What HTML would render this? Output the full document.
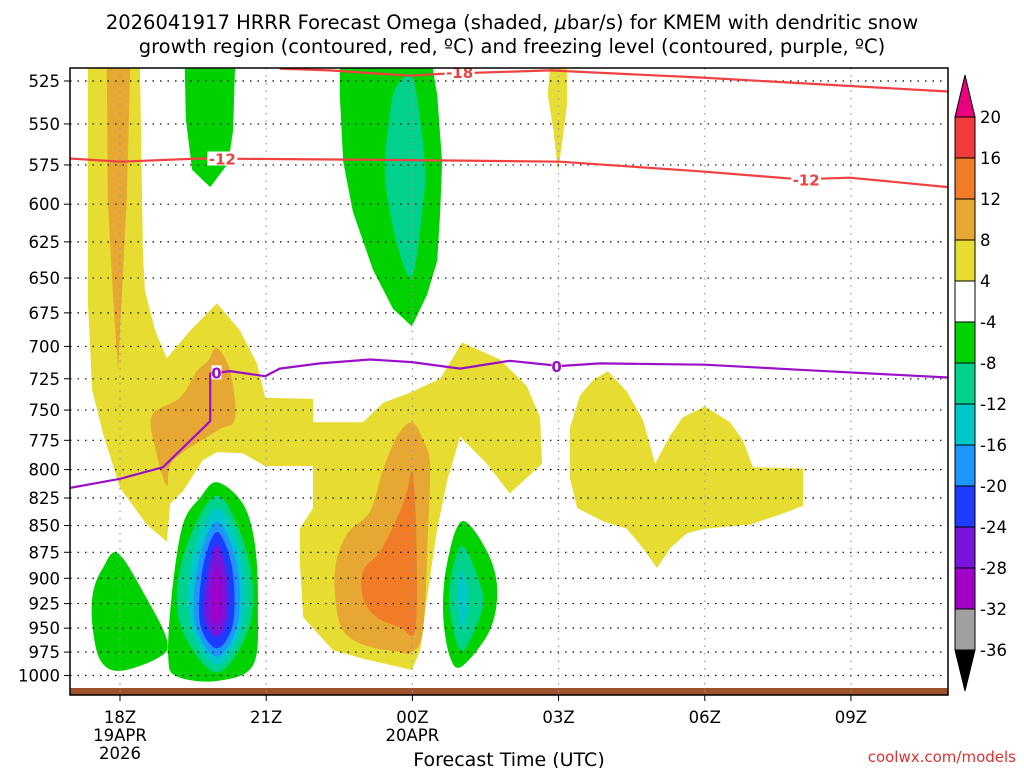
<!DOCTYPE html>
<html><head><meta charset="utf-8"><style>
html,body{margin:0;padding:0;background:#fff;}
body{width:1024px;height:768px;overflow:hidden;font-family:"DejaVu Sans","Liberation Sans",sans-serif;}
svg{display:block;}
</style></head><body>
<svg id="chart" width="1024" height="768" xmlns="http://www.w3.org/2000/svg" font-family="DejaVu Sans, Liberation Sans, sans-serif">
<text x="512" y="29" font-size="19.5" text-anchor="middle">2026041917 HRRR Forecast Omega (shaded, <tspan font-style="italic">μ</tspan>bar/s) for KMEM with dendritic snow</text>
<text x="512" y="53" font-size="19.5" text-anchor="middle">growth region (contoured, red, ºC) and freezing level (contoured, purple, ºC)</text>
<g id="plot"></g>
<g id="cbar"></g>
<text x="509" y="766" font-size="19" text-anchor="middle">Forecast Time (UTC)</text>
<text x="1016" y="762" font-size="15" fill="#e03030" text-anchor="end">coolwx.com/models</text>
</svg>
<script>
// ---- data ----
const pressureTicks=[525,550,575,600,625,650,675,700,725,750,775,800,825,850,875,900,925,950,975,1000];
const timeTicks=[18,21,24,27,30,33];
const timeLabels=["18Z","21Z","00Z","03Z","06Z","09Z"];
const dateLabels={18:["19APR","2026"],24:["20APR"]};
const cbarLevels=[20,16,12,8,4,-4,-8,-12,-16,-20,-24,-28,-32,-36];
const cbarColors=["#f03c3c","#f07c28","#e6a832","#e6dc32","#ffffff","#00d200","#00d28c","#00c8c8","#1e96ff","#1e3cff","#7814dc","#a000c8","#a0a0a0"];
const yellowMain=[[17.34,518],[18.41,518],[18.47,631],[18.51,659],[18.72,688],[18.96,709],[19.44,688],[19.99,668],[20.46,688],[20.81,713],[20.98,740],[21.96,741],[21.96,760],[22.99,760],[23.4,744],[23.95,736],[24.57,725],[25.02,697],[25.8,710],[26.35,731],[26.62,756],[26.66,795],[26.0,821],[25.53,795],[24.98,772],[24.71,810],[24.5,856],[24.3,919],[24.16,973],[23.99,994],[23.07,983],[22.37,973],[21.76,939],[21.69,884],[21.69,853],[21.96,834],[21.96,797],[20.98,797],[20.52,786],[19.99,785],[19.7,792],[19.29,819],[19.03,830],[18.96,865],[18.55,849],[18.0,816],[17.65,769],[17.43,734],[17.34,666]];
const yellowSpike=[[26.82,518],[27.17,518],[27.17,539],[27.09,557],[26.99,579],[26.89,553],[26.78,533]];
const yellowRight=[[28.01,719],[28.4,735],[28.73,758],[28.98,795],[29.29,771],[29.55,756],[30.0,747],[30.52,760],[30.78,775],[30.99,798],[32.02,799],[32.02,832],[31.54,840],[30.93,849],[30.0,853],[29.64,857],[29.29,871],[29.02,890],[28.73,871],[28.4,853],[27.91,846],[27.38,834],[27.23,807],[27.23,765],[27.44,738],[27.71,726]];
const orangeCol=[[17.73,518],[18.21,518],[18.14,597],[18.0,688],[17.96,719],[17.86,666],[17.75,597]];
const orangeMid=[[19.99,701],[20.26,719],[20.36,757],[19.99,767],[19.09,792],[18.96,814],[18.72,781],[18.66,754],[19.23,740],[19.58,719],[19.81,711]];
const orangeCen=[[23.99,760],[24.22,775],[24.36,795],[24.32,856],[24.22,952],[23.99,975],[23.75,975],[22.93,966],[22.51,945],[22.41,893],[22.66,858],[23.13,837],[23.4,800],[23.68,772]];
const dorangeCen=[[23.99,801],[24.05,825],[24.09,887],[24.05,954],[23.75,949],[23.27,939],[22.99,920],[22.99,893],[23.34,874],[23.68,844],[23.89,819]];
const greenA=[[19.99,811],[20.52,830],[20.77,868],[20.83,929],[20.73,989],[19.99,1006],[19.17,1001],[18.99,980],[19.07,913],[19.29,849],[19.64,825]];
const tealA=[[19.99,823],[20.63,880],[20.67,945],[19.99,997],[19.23,945],[19.29,880]];
const cyanA=[[19.99,834],[20.5,880],[20.52,945],[19.99,989],[19.44,945],[19.48,880]];
const blueA=[[19.99,846],[20.4,886],[20.42,945],[19.99,980],[19.54,945],[19.6,886]];
const dblueA=[[19.99,856],[20.3,890],[20.32,945],[19.99,971],[19.64,945],[19.7,890]];
const purpleA=[[19.99,868],[20.2,900],[20.2,939],[19.99,959],[19.74,939],[19.79,900]];
const magentaA=[[19.99,887],[20.09,913],[20.05,942],[19.91,942],[19.89,913]];
const greenL=[[17.96,876],[18.55,920],[18.96,962],[18.82,980],[18.0,995],[17.59,983],[17.43,945],[17.45,913],[17.65,890]];
const greenB=[[25.02,846],[25.53,874],[25.74,910],[25.59,952],[25.02,990],[24.77,980],[24.63,935],[24.71,886]];
const tealB=[[25.02,869],[25.39,906],[25.43,931],[25.04,973],[24.81,945],[24.77,906]];
const cyanB=[[25.02,893],[25.14,919],[25.04,952],[24.92,919]];
const greenTop1=[[19.33,518],[20.36,518],[20.32,554],[20.22,574],[19.85,589],[19.48,578],[19.35,547]];
const greenTop2=[[22.51,518],[24.42,518],[24.51,533],[24.61,573],[24.57,605],[24.51,638],[24.3,662],[23.99,685],[23.6,672],[23.19,644],[22.78,605],[22.58,573],[22.51,533]];
const tealTop2=[[23.95,522],[24.09,533],[24.26,577],[24.2,605],[23.99,649],[23.68,626],[23.44,583],[23.5,553],[23.64,530]];
const lineM18=[[21.28,518],[22.31,519],[23.95,522],[24.57,521],[26.82,519],[29.9,523],[34.99,531]];
const lineM12=[[16.97,571],[18.0,573],[19.64,571],[23.99,572],[27.03,573],[29.9,579],[31.95,584],[32.98,583],[34.99,589]];
const line0=[[16.97,816],[18.0,808],[18.88,798],[19.85,759],[19.85,721],[20.26,719],[20.98,723],[21.28,717],[22.1,713],[23.13,710],[23.99,712],[24.98,717],[26.0,711],[27.03,715],[27.85,713],[30.0,714],[31.95,718],[34.99,724]];
const labelsM18=[[24.97,520]];
const labelsM12=[[20.1,571],[32.08,584]];
const labels0=[[19.98,720],[26.96,715]];

// ---- axes ----
const X0=70,X1=948,Y0=68,Y1=695;
function xs(h){return 120+(h-18)*48.73;}
function ys(p){return 81+922.6*Math.log(p/525);}
const NS="http://www.w3.org/2000/svg";
function mk(tag,attrs,parent){const e=document.createElementNS(NS,tag);for(const k in attrs)e.setAttribute(k,attrs[k]);parent.appendChild(e);return e;}
const plot=document.getElementById('plot');
const cbar=document.getElementById('cbar');
const clipEl=mk('clipPath',{id:'clip'},plot);
mk('rect',{x:X0,y:Y0,width:X1-X0,height:Y1-Y0},clipEl);
const g=mk('g',{'clip-path':'url(#clip)'},plot);
function poly(pts,fill,name){
  const e=mk('polygon',{points:pts.map(p=>xs(p[0]).toFixed(1)+','+ys(p[1]).toFixed(1)).join(' '),fill:fill},g);
  
  
}
function smooth(pts,fill,name){
  const P=pts.map(p=>[xs(p[0]),ys(p[1])]);const n=P.length;
  let d='M'+P[0][0].toFixed(1)+','+P[0][1].toFixed(1);
  for(let i=0;i<n;i++){
    const p0=P[(i-1+n)%n],p1=P[i],p2=P[(i+1)%n],p3=P[(i+2)%n];
    const c1=[p1[0]+(p2[0]-p0[0])/6,p1[1]+(p2[1]-p0[1])/6];
    const c2=[p2[0]-(p3[0]-p1[0])/6,p2[1]-(p3[1]-p1[1])/6];
    d+=' C'+c1[0].toFixed(1)+','+c1[1].toFixed(1)+' '+c2[0].toFixed(1)+','+c2[1].toFixed(1)+' '+p2[0].toFixed(1)+','+p2[1].toFixed(1);
  }
  const e=mk('path',{d:d+'Z',fill:fill},g);
  
  
}
const C=cbarColors;
poly(yellowMain,C[3],'omega-4-8-main');
poly(yellowSpike,C[3],'omega-4-8-spike');
poly(yellowRight,C[3],'omega-4-8-right');
poly(orangeCol,C[2],'omega-8-12-column');
smooth(orangeMid,C[2],'omega-8-12-mid');
smooth(orangeCen,C[2],'omega-8-12-center');
smooth(dorangeCen,C[1],'omega-12-16-center');
smooth(greenL,C[5],'omega-neg4-left');
smooth(greenA,C[5],'omega-neg4-blob');
smooth(tealA,C[6],'omega-neg8-blob');
smooth(cyanA,C[7],'omega-neg12-blob');
smooth(blueA,C[8],'omega-neg16-blob');
smooth(dblueA,C[9],'omega-neg20-blob');
smooth(purpleA,C[10],'omega-neg24-blob');
smooth(magentaA,C[11],'omega-neg28-blob');
smooth(greenB,C[5],'omega-neg4-01z');
smooth(tealB,C[6],'omega-neg8-01z');
smooth(cyanB,C[7],'omega-neg12-01z');
poly(greenTop1,C[5],'omega-neg4-top-20z');
poly(greenTop2,C[5],'omega-neg4-top-23z');
smooth(tealTop2,C[6],'omega-neg8-top-23z');
const gr=mk('rect',{x:X0,y:688,width:X1-X0,height:7,fill:'#a0522d'},g);


pressureTicks.forEach(p=>{
  const y=ys(p);
  const l=mk('line',{x1:X0,x2:X1,y1:y,y2:y,stroke:'#000','stroke-width':1.2,'stroke-dasharray':'1.5 6'},g);
  
  
  const t=mk('text',{x:60,y:y+6,'font-size':16.5,'text-anchor':'end'},plot);
  t.textContent=p;
  
  
  mk('line',{x1:X0-6,x2:X0,y1:y,y2:y,stroke:'#000','stroke-width':1},plot);
});
timeTicks.forEach((h,i)=>{
  const x=xs(h);
  const l=mk('line',{x1:x,x2:x,y1:Y0,y2:Y1,stroke:'#999','stroke-width':1.2,'stroke-dasharray':'1.5 6'},g);
  
  
  mk('line',{x1:x,x2:x,y1:Y1,y2:Y1+6,stroke:'#000','stroke-width':1},plot);
  const t=mk('text',{x:x,y:723,'font-size':16.5,'text-anchor':'middle'},plot);
  t.textContent=timeLabels[i];
  
  
  (dateLabels[h]||[]).forEach((d,j)=>{
    const tt=mk('text',{x:x,y:741+18*j,'font-size':16.5,'text-anchor':'middle'},plot);
    tt.textContent=d;
    
    
  });
});
function pline(pts,color,name){
  const e=mk('polyline',{points:pts.map(p=>xs(p[0]).toFixed(1)+','+ys(p[1]).toFixed(1)).join(' '),fill:'none',stroke:color,'stroke-width':2.2},g);
  
  
}
function lab(pts,txt,color,name){
  pts.forEach(p=>{
    const x=xs(p[0]),y=ys(p[1]);
    mk('rect',{x:x-txt.length*5,y:y-7,width:txt.length*10,height:14,fill:'#fff'},g);
    const t=mk('text',{x:x,y:y+6,'font-size':15,'font-weight':'bold','text-anchor':'middle',fill:color},g);
    t.textContent=txt;
    
    
  });
}
pline(lineM18,'#f04040','contour-minus18');
pline(lineM12,'#f04040','contour-minus12');
pline(line0,'#9a10c8','freezing-level');
lab(labelsM18,'-18','#f04040','label-minus18');
lab(labelsM12,'-12','#f04040','label-minus12');
lab(labels0,'0','#9a10c8','label-zero');
const fr=mk('rect',{x:X0,y:Y0,width:X1-X0,height:Y1-Y0,fill:'none',stroke:'#000','stroke-width':1.5},plot);


const CB0=955,CBW=20;
function cy(i){return 117+i*41.0;}
const arrowTop=mk('polygon',{points:`${CB0},${cy(0)} ${CB0+CBW},${cy(0)} ${CB0+CBW/2},75`,fill:'#e8007e',stroke:'#000'},cbar);


cbarColors.forEach((c,i)=>{
  const r=mk('rect',{x:CB0,y:cy(i),width:CBW,height:41,fill:c,stroke:'#000','stroke-width':1},cbar);
  
  
});
const arrowBot=mk('polygon',{points:`${CB0},${cy(13)} ${CB0+CBW},${cy(13)} ${CB0+CBW/2},691`,fill:'#000',stroke:'#000'},cbar);


cbarLevels.forEach((v,i)=>{
  const t=mk('text',{x:980,y:cy(i)+6,'font-size':16.5},cbar);
  t.textContent=v;
  
  
});
</script>
</body></html>
